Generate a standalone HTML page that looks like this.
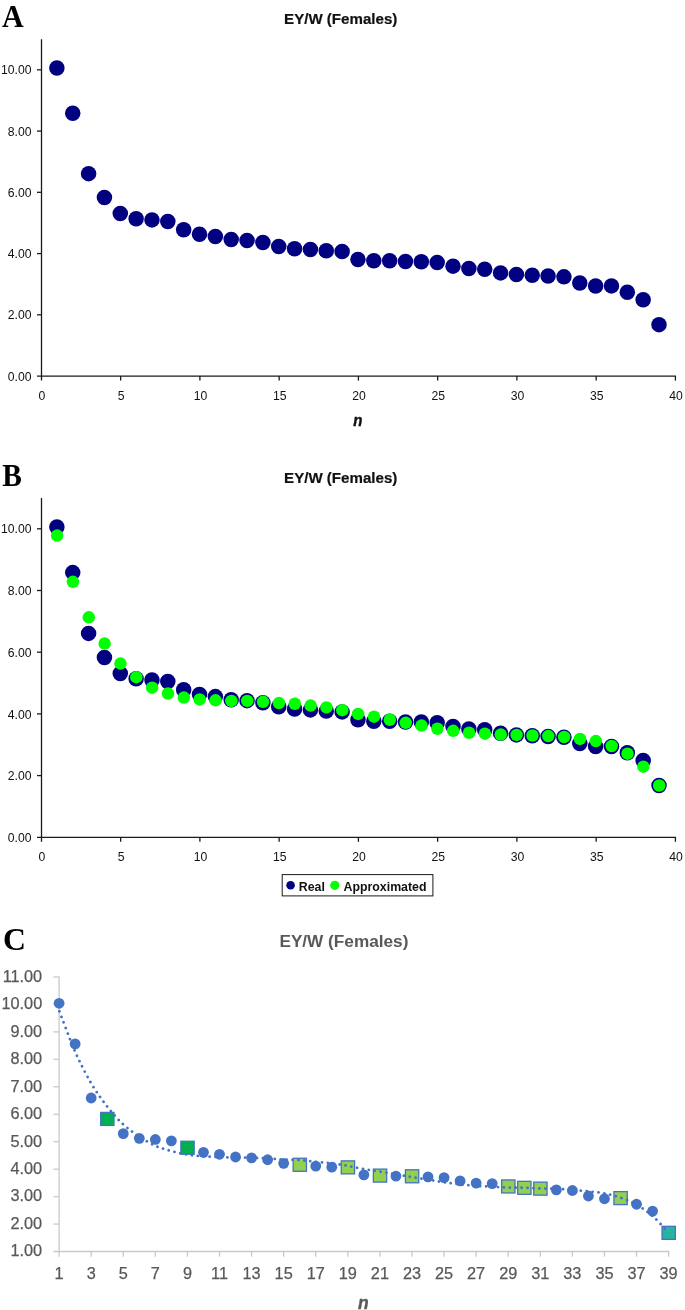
<!DOCTYPE html>
<html><head><meta charset="utf-8"><title>EY/W (Females)</title>
<style>
html,body{margin:0;padding:0;background:#fff;}
body{width:685px;height:1310px;overflow:hidden;font-family:"Liberation Sans",sans-serif;}
svg{display:block;will-change:transform;font-family:"Liberation Sans",sans-serif;}
</style></head><body>
<svg width="685" height="1310" viewBox="0 0 685 1310">
<rect width="685" height="1310" fill="#fff"/>
<text transform="translate(1.9,26.6) scale(1,1.085)" font-family="Liberation Serif, serif" font-weight="bold" font-size="30" fill="#000">A</text>
<g stroke="#1a1a1a" stroke-width="1.3" fill="none">
<path d="M41.5 39.17V380.6"/>
<path d="M37 376.1H676.05"/>
<path d="M37 314.84H41.5"/>
<path d="M37 253.58H41.5"/>
<path d="M37 192.32H41.5"/>
<path d="M37 131.06H41.5"/>
<path d="M37 69.8H41.5"/>
<path d="M120.65 376.1V380.6"/>
<path d="M199.9 376.1V380.6"/>
<path d="M279.15 376.1V380.6"/>
<path d="M358.4 376.1V380.6"/>
<path d="M437.65 376.1V380.6"/>
<path d="M516.9 376.1V380.6"/>
<path d="M596.15 376.1V380.6"/>
<path d="M675.4 376.1V380.6"/>
</g>
<g font-size="12.2" fill="#111">
<text x="31.5" y="380.7" text-anchor="end">0.00</text>
<text x="31.5" y="319.44" text-anchor="end">2.00</text>
<text x="31.5" y="258.18" text-anchor="end">4.00</text>
<text x="31.5" y="196.92" text-anchor="end">6.00</text>
<text x="31.5" y="135.66" text-anchor="end">8.00</text>
<text x="31.5" y="74.4" text-anchor="end">10.00</text>
<text x="42" y="399.8" text-anchor="middle">0</text>
<text x="121.25" y="399.8" text-anchor="middle">5</text>
<text x="200.5" y="399.8" text-anchor="middle">10</text>
<text x="279.75" y="399.8" text-anchor="middle">15</text>
<text x="359" y="399.8" text-anchor="middle">20</text>
<text x="438.25" y="399.8" text-anchor="middle">25</text>
<text x="517.5" y="399.8" text-anchor="middle">30</text>
<text x="596.75" y="399.8" text-anchor="middle">35</text>
<text x="676" y="399.8" text-anchor="middle">40</text>
</g>
<text x="340.7" y="23.7" text-anchor="middle" font-size="15.1" font-weight="bold" fill="#111" stroke="#111" stroke-width="0.2">EY/W (Females)</text>
<g fill="#000080">
<circle cx="56.89" cy="67.96" r="7.75"/>
<circle cx="72.74" cy="113.29" r="7.75"/>
<circle cx="88.59" cy="173.64" r="7.75"/>
<circle cx="104.43" cy="197.53" r="7.75"/>
<circle cx="120.28" cy="213.45" r="7.75"/>
<circle cx="136.12" cy="218.66" r="7.75"/>
<circle cx="151.97" cy="219.89" r="7.75"/>
<circle cx="167.81" cy="221.42" r="7.75"/>
<circle cx="183.66" cy="229.69" r="7.75"/>
<circle cx="199.5" cy="234.28" r="7.75"/>
<circle cx="215.35" cy="236.43" r="7.75"/>
<circle cx="231.19" cy="239.49" r="7.75"/>
<circle cx="247.04" cy="240.41" r="7.75"/>
<circle cx="262.88" cy="242.55" r="7.75"/>
<circle cx="278.73" cy="246.54" r="7.75"/>
<circle cx="294.57" cy="248.68" r="7.75"/>
<circle cx="310.42" cy="249.6" r="7.75"/>
<circle cx="326.26" cy="250.82" r="7.75"/>
<circle cx="342.11" cy="251.59" r="7.75"/>
<circle cx="357.95" cy="259.4" r="7.75"/>
<circle cx="373.8" cy="260.78" r="7.75"/>
<circle cx="389.64" cy="260.78" r="7.75"/>
<circle cx="405.49" cy="261.54" r="7.75"/>
<circle cx="421.33" cy="261.7" r="7.75"/>
<circle cx="437.18" cy="262.46" r="7.75"/>
<circle cx="453.02" cy="266.14" r="7.75"/>
<circle cx="468.87" cy="268.59" r="7.75"/>
<circle cx="484.71" cy="269.2" r="7.75"/>
<circle cx="500.56" cy="272.88" r="7.75"/>
<circle cx="516.4" cy="274.41" r="7.75"/>
<circle cx="532.25" cy="275.33" r="7.75"/>
<circle cx="548.09" cy="276.09" r="7.75"/>
<circle cx="563.93" cy="276.86" r="7.75"/>
<circle cx="579.78" cy="282.98" r="7.75"/>
<circle cx="595.62" cy="286.05" r="7.75"/>
<circle cx="611.47" cy="285.89" r="7.75"/>
<circle cx="627.31" cy="292.17" r="7.75"/>
<circle cx="643.16" cy="299.83" r="7.75"/>
<circle cx="659" cy="324.64" r="7.75"/>
</g>
<text transform="translate(357.9,426.1) scale(0.88,0.98)" text-anchor="middle" font-size="17" font-weight="bold" font-style="italic" fill="#111" stroke="#111" stroke-width="0.45">n</text>
<text transform="translate(2.2,486) scale(0.98,1.047)" font-family="Liberation Serif, serif" font-weight="bold" font-size="30" fill="#000">B</text>
<g stroke="#1a1a1a" stroke-width="1.3" fill="none">
<path d="M41.5 497.95V841.8"/>
<path d="M37 837.3H676.05"/>
<path d="M37 775.6H41.5"/>
<path d="M37 713.9H41.5"/>
<path d="M37 652.2H41.5"/>
<path d="M37 590.5H41.5"/>
<path d="M37 528.8H41.5"/>
<path d="M120.65 837.3V841.8"/>
<path d="M199.9 837.3V841.8"/>
<path d="M279.15 837.3V841.8"/>
<path d="M358.4 837.3V841.8"/>
<path d="M437.65 837.3V841.8"/>
<path d="M516.9 837.3V841.8"/>
<path d="M596.15 837.3V841.8"/>
<path d="M675.4 837.3V841.8"/>
</g>
<g font-size="12.2" fill="#111">
<text x="31.5" y="841.9" text-anchor="end">0.00</text>
<text x="31.5" y="780.2" text-anchor="end">2.00</text>
<text x="31.5" y="718.5" text-anchor="end">4.00</text>
<text x="31.5" y="656.8" text-anchor="end">6.00</text>
<text x="31.5" y="595.1" text-anchor="end">8.00</text>
<text x="31.5" y="533.4" text-anchor="end">10.00</text>
<text x="42" y="861" text-anchor="middle">0</text>
<text x="121.25" y="861" text-anchor="middle">5</text>
<text x="200.5" y="861" text-anchor="middle">10</text>
<text x="279.75" y="861" text-anchor="middle">15</text>
<text x="359" y="861" text-anchor="middle">20</text>
<text x="438.25" y="861" text-anchor="middle">25</text>
<text x="517.5" y="861" text-anchor="middle">30</text>
<text x="596.75" y="861" text-anchor="middle">35</text>
<text x="676" y="861" text-anchor="middle">40</text>
</g>
<text x="340.7" y="483.3" text-anchor="middle" font-size="15.1" font-weight="bold" fill="#111" stroke="#111" stroke-width="0.2">EY/W (Females)</text>
<g fill="#000080">
<circle cx="56.89" cy="526.95" r="7.75"/>
<circle cx="72.74" cy="572.61" r="7.75"/>
<circle cx="88.59" cy="633.38" r="7.75"/>
<circle cx="104.43" cy="657.44" r="7.75"/>
<circle cx="120.28" cy="673.49" r="7.75"/>
<circle cx="136.12" cy="678.73" r="7.75"/>
<circle cx="151.97" cy="679.96" r="7.75"/>
<circle cx="167.81" cy="681.51" r="7.75"/>
<circle cx="183.66" cy="689.84" r="7.75"/>
<circle cx="199.5" cy="694.46" r="7.75"/>
<circle cx="215.35" cy="696.62" r="7.75"/>
<circle cx="231.19" cy="699.71" r="7.75"/>
<circle cx="247.04" cy="700.63" r="7.75"/>
<circle cx="262.88" cy="702.79" r="7.75"/>
<circle cx="278.73" cy="706.8" r="7.75"/>
<circle cx="294.57" cy="708.96" r="7.75"/>
<circle cx="310.42" cy="709.89" r="7.75"/>
<circle cx="326.26" cy="711.12" r="7.75"/>
<circle cx="342.11" cy="711.89" r="7.75"/>
<circle cx="357.95" cy="719.76" r="7.75"/>
<circle cx="373.8" cy="721.15" r="7.75"/>
<circle cx="389.64" cy="721.15" r="7.75"/>
<circle cx="405.49" cy="721.92" r="7.75"/>
<circle cx="421.33" cy="722.08" r="7.75"/>
<circle cx="437.18" cy="722.85" r="7.75"/>
<circle cx="453.02" cy="726.55" r="7.75"/>
<circle cx="468.87" cy="729.02" r="7.75"/>
<circle cx="484.71" cy="729.63" r="7.75"/>
<circle cx="500.56" cy="733.34" r="7.75"/>
<circle cx="516.4" cy="734.88" r="7.75"/>
<circle cx="532.25" cy="735.8" r="7.75"/>
<circle cx="548.09" cy="736.57" r="7.75"/>
<circle cx="563.93" cy="737.35" r="7.75"/>
<circle cx="579.78" cy="743.52" r="7.75"/>
<circle cx="595.62" cy="746.6" r="7.75"/>
<circle cx="611.47" cy="746.45" r="7.75"/>
<circle cx="627.31" cy="752.77" r="7.75"/>
<circle cx="643.16" cy="760.48" r="7.75"/>
<circle cx="659" cy="785.47" r="7.75"/>
</g>
<g fill="#00ff00">
<circle cx="57.09" cy="535.59" r="6.25"/>
<circle cx="72.94" cy="581.86" r="6.25"/>
<circle cx="88.79" cy="617.34" r="6.25"/>
<circle cx="104.63" cy="643.56" r="6.25"/>
<circle cx="120.48" cy="663.61" r="6.25"/>
<circle cx="136.32" cy="677.19" r="6.25"/>
<circle cx="152.16" cy="687.68" r="6.25"/>
<circle cx="168.01" cy="693.54" r="6.25"/>
<circle cx="183.86" cy="697.55" r="6.25"/>
<circle cx="199.7" cy="699.4" r="6.25"/>
<circle cx="215.55" cy="700.33" r="6.25"/>
<circle cx="231.39" cy="700.94" r="6.25"/>
<circle cx="247.24" cy="700.94" r="6.25"/>
<circle cx="263.08" cy="701.87" r="6.25"/>
<circle cx="278.93" cy="703.1" r="6.25"/>
<circle cx="294.77" cy="703.72" r="6.25"/>
<circle cx="310.62" cy="705.57" r="6.25"/>
<circle cx="326.46" cy="707.42" r="6.25"/>
<circle cx="342.31" cy="710.2" r="6.25"/>
<circle cx="358.15" cy="713.9" r="6.25"/>
<circle cx="374" cy="716.68" r="6.25"/>
<circle cx="389.84" cy="719.76" r="6.25"/>
<circle cx="405.69" cy="722.85" r="6.25"/>
<circle cx="421.53" cy="725.62" r="6.25"/>
<circle cx="437.38" cy="728.71" r="6.25"/>
<circle cx="453.22" cy="730.87" r="6.25"/>
<circle cx="469.06" cy="732.72" r="6.25"/>
<circle cx="484.91" cy="733.64" r="6.25"/>
<circle cx="500.75" cy="734.57" r="6.25"/>
<circle cx="516.6" cy="734.88" r="6.25"/>
<circle cx="532.45" cy="735.5" r="6.25"/>
<circle cx="548.29" cy="736.11" r="6.25"/>
<circle cx="564.13" cy="737.04" r="6.25"/>
<circle cx="579.98" cy="738.89" r="6.25"/>
<circle cx="595.83" cy="741.05" r="6.25"/>
<circle cx="611.67" cy="745.98" r="6.25"/>
<circle cx="627.51" cy="753.7" r="6.25"/>
<circle cx="643.36" cy="766.65" r="6.25"/>
<circle cx="659.21" cy="785.47" r="6.25"/>
</g>
<rect x="282.2" y="874.6" width="150.7" height="21.3" fill="#fff" stroke="#1a1a1a" stroke-width="1"/>
<circle cx="290.6" cy="885.3" r="4.3" fill="#000080"/>
<circle cx="334.8" cy="885.3" r="4.6" fill="#00ff00"/>
<g font-size="12.35" font-weight="bold" fill="#111"><text x="298.8" y="890.5">Real</text><text x="343.5" y="890.5">Approximated</text></g>
<text transform="translate(3.0,949.6) scale(1.06,1.085)" font-family="Liberation Serif, serif" font-weight="bold" font-size="30" fill="#000">C</text>
<g stroke="#c9c9c9" stroke-width="1.3" fill="none">
<path d="M59.1 976.4V1256.7"/>
<path d="M53.4 1251.5H669.27"/>
<path d="M53.4 1224.05H59.1"/>
<path d="M53.4 1196.6H59.1"/>
<path d="M53.4 1169.15H59.1"/>
<path d="M53.4 1141.7H59.1"/>
<path d="M53.4 1114.25H59.1"/>
<path d="M53.4 1086.8H59.1"/>
<path d="M53.4 1059.35H59.1"/>
<path d="M53.4 1031.9H59.1"/>
<path d="M53.4 1004.45H59.1"/>
<path d="M53.4 977H59.1"/>
<path d="M91.18 1251.5V1256.7"/>
<path d="M123.26 1251.5V1256.7"/>
<path d="M155.34 1251.5V1256.7"/>
<path d="M187.42 1251.5V1256.7"/>
<path d="M219.5 1251.5V1256.7"/>
<path d="M251.58 1251.5V1256.7"/>
<path d="M283.66 1251.5V1256.7"/>
<path d="M315.74 1251.5V1256.7"/>
<path d="M347.82 1251.5V1256.7"/>
<path d="M379.9 1251.5V1256.7"/>
<path d="M411.98 1251.5V1256.7"/>
<path d="M444.06 1251.5V1256.7"/>
<path d="M476.14 1251.5V1256.7"/>
<path d="M508.22 1251.5V1256.7"/>
<path d="M540.3 1251.5V1256.7"/>
<path d="M572.38 1251.5V1256.7"/>
<path d="M604.46 1251.5V1256.7"/>
<path d="M636.54 1251.5V1256.7"/>
<path d="M668.62 1251.5V1256.7"/>
</g>
<g font-size="16.3" fill="#595959" stroke="#595959" stroke-width="0.25">
<text x="42.2" y="1256.3" text-anchor="end">1.00</text>
<text x="42.2" y="1228.85" text-anchor="end">2.00</text>
<text x="42.2" y="1201.4" text-anchor="end">3.00</text>
<text x="42.2" y="1173.95" text-anchor="end">4.00</text>
<text x="42.2" y="1146.5" text-anchor="end">5.00</text>
<text x="42.2" y="1119.05" text-anchor="end">6.00</text>
<text x="42.2" y="1091.6" text-anchor="end">7.00</text>
<text x="42.2" y="1064.15" text-anchor="end">8.00</text>
<text x="42.2" y="1036.7" text-anchor="end">9.00</text>
<text x="42.2" y="1009.25" text-anchor="end">10.00</text>
<text x="42.2" y="981.8" text-anchor="end">11.00</text>
<text x="59.1" y="1279.4" text-anchor="middle">1</text>
<text x="91.18" y="1279.4" text-anchor="middle">3</text>
<text x="123.26" y="1279.4" text-anchor="middle">5</text>
<text x="155.34" y="1279.4" text-anchor="middle">7</text>
<text x="187.42" y="1279.4" text-anchor="middle">9</text>
<text x="219.5" y="1279.4" text-anchor="middle">11</text>
<text x="251.58" y="1279.4" text-anchor="middle">13</text>
<text x="283.66" y="1279.4" text-anchor="middle">15</text>
<text x="315.74" y="1279.4" text-anchor="middle">17</text>
<text x="347.82" y="1279.4" text-anchor="middle">19</text>
<text x="379.9" y="1279.4" text-anchor="middle">21</text>
<text x="411.98" y="1279.4" text-anchor="middle">23</text>
<text x="444.06" y="1279.4" text-anchor="middle">25</text>
<text x="476.14" y="1279.4" text-anchor="middle">27</text>
<text x="508.22" y="1279.4" text-anchor="middle">29</text>
<text x="540.3" y="1279.4" text-anchor="middle">31</text>
<text x="572.38" y="1279.4" text-anchor="middle">33</text>
<text x="604.46" y="1279.4" text-anchor="middle">35</text>
<text x="636.54" y="1279.4" text-anchor="middle">37</text>
<text x="668.62" y="1279.4" text-anchor="middle">39</text>
</g>
<text x="343.9" y="947.3" text-anchor="middle" font-size="17.2" font-weight="bold" fill="#595959">EY/W (Females)</text>
<text transform="translate(363.4,1309) scale(0.92,0.98)" text-anchor="middle" font-size="19" font-weight="bold" font-style="italic" fill="#595959" stroke="#595959" stroke-width="0.4">n</text>
<g fill="#4472c4">
<circle cx="59.1" cy="1003.3" r="5.4"/>
<circle cx="75.14" cy="1043.93" r="5.4"/>
<circle cx="91.18" cy="1098.01" r="5.4"/>
<circle cx="123.26" cy="1133.69" r="5.4"/>
<circle cx="139.3" cy="1138.36" r="5.4"/>
<circle cx="155.34" cy="1139.45" r="5.4"/>
<circle cx="171.38" cy="1140.83" r="5.4"/>
<circle cx="203.46" cy="1152.36" r="5.4"/>
<circle cx="219.5" cy="1154.28" r="5.4"/>
<circle cx="235.54" cy="1157.02" r="5.4"/>
<circle cx="251.58" cy="1157.85" r="5.4"/>
<circle cx="267.62" cy="1159.77" r="5.4"/>
<circle cx="283.66" cy="1163.34" r="5.4"/>
<circle cx="315.74" cy="1166.08" r="5.4"/>
<circle cx="331.78" cy="1167.18" r="5.4"/>
<circle cx="363.86" cy="1174.87" r="5.4"/>
<circle cx="395.94" cy="1176.1" r="5.4"/>
<circle cx="428.02" cy="1176.92" r="5.4"/>
<circle cx="444.06" cy="1177.61" r="5.4"/>
<circle cx="460.1" cy="1180.9" r="5.4"/>
<circle cx="476.14" cy="1183.1" r="5.4"/>
<circle cx="492.18" cy="1183.65" r="5.4"/>
<circle cx="556.34" cy="1189.83" r="5.4"/>
<circle cx="572.38" cy="1190.51" r="5.4"/>
<circle cx="588.42" cy="1196" r="5.4"/>
<circle cx="604.46" cy="1198.75" r="5.4"/>
<circle cx="636.54" cy="1204.24" r="5.4"/>
<circle cx="652.58" cy="1211.1" r="5.4"/>
</g>
<g stroke="#4472c4" stroke-width="1.3">
<rect x="100.67" y="1112.42" width="13.3" height="13" fill="#00b050"/>
<rect x="180.87" y="1141.24" width="13.3" height="13" fill="#00b050"/>
<rect x="293.15" y="1158.26" width="13.3" height="13" fill="#92d050"/>
<rect x="341.27" y="1160.87" width="13.3" height="13" fill="#92d050"/>
<rect x="373.35" y="1169.1" width="13.3" height="13" fill="#92d050"/>
<rect x="405.43" y="1169.79" width="13.3" height="13" fill="#92d050"/>
<rect x="501.67" y="1179.94" width="13.3" height="13" fill="#92d050"/>
<rect x="517.71" y="1181.32" width="13.3" height="13" fill="#92d050"/>
<rect x="533.75" y="1182.14" width="13.3" height="13" fill="#92d050"/>
<rect x="613.95" y="1191.61" width="13.3" height="13" fill="#92d050"/>
<rect x="662.07" y="1226.33" width="13.3" height="13" fill="#29b4a0"/>
</g>
<path d="M59.1 1010.49C61.77 1017.35 69.79 1039.54 75.14 1051.66C80.49 1063.79 85.83 1074.08 91.18 1083.23C96.53 1092.38 101.87 1099.7 107.22 1106.56C112.57 1113.43 117.91 1119.42 123.26 1124.41C128.61 1129.39 133.95 1132.92 139.3 1136.48C144.65 1140.05 149.99 1143.39 155.34 1145.82C160.69 1148.24 166.03 1149.57 171.38 1151.03C176.73 1152.5 182.07 1153.73 187.42 1154.6C192.77 1155.47 198.11 1155.84 203.46 1156.25C208.81 1156.66 214.15 1156.84 219.5 1157.07C224.85 1157.3 230.19 1157.53 235.54 1157.62C240.89 1157.71 246.23 1157.48 251.58 1157.62C256.93 1157.76 262.27 1158.12 267.62 1158.44C272.97 1158.76 278.31 1159.27 283.66 1159.54C289.01 1159.82 294.35 1159.73 299.7 1160.09C305.05 1160.46 310.39 1161.19 315.74 1161.74C321.09 1162.29 326.43 1162.7 331.78 1163.39C337.13 1164.07 342.47 1164.9 347.82 1165.86C353.17 1166.82 358.51 1168.19 363.86 1169.15C369.21 1170.11 374.55 1170.75 379.9 1171.62C385.25 1172.49 390.59 1173.45 395.94 1174.37C401.29 1175.28 406.63 1176.24 411.98 1177.11C417.33 1177.98 422.67 1178.71 428.02 1179.58C433.37 1180.45 438.71 1181.55 444.06 1182.33C449.41 1183.1 454.75 1183.65 460.1 1184.25C465.45 1184.84 470.79 1185.48 476.14 1185.89C481.49 1186.31 486.83 1186.44 492.18 1186.72C497.53 1186.99 502.87 1187.36 508.22 1187.54C513.57 1187.72 518.91 1187.68 524.26 1187.82C529.61 1187.95 534.95 1188.18 540.3 1188.37C545.65 1188.55 550.99 1188.69 556.34 1188.91C561.69 1189.14 567.03 1189.33 572.38 1189.74C577.73 1190.15 583.07 1190.79 588.42 1191.38C593.77 1191.98 599.11 1192.25 604.46 1193.31C609.81 1194.36 615.15 1195.82 620.5 1197.7C625.85 1199.57 631.19 1201.5 636.54 1204.56C641.89 1207.63 647.61 1211.82 652.58 1216.09C657.55 1220.36 664.08 1227.84 666.37 1230.19" fill="none" stroke="#4472c4" stroke-width="2.8" stroke-linecap="round" stroke-dasharray="0.01 5.917" stroke-dashoffset="-1"/>
</svg>
</body></html>
